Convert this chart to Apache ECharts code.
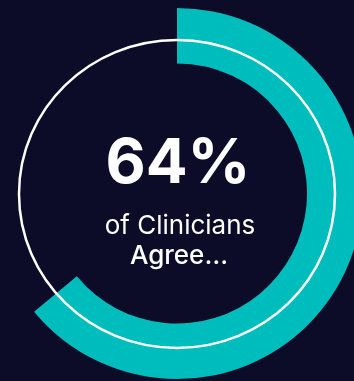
<!DOCTYPE html>
<html>
<head>
<meta charset="utf-8">
<style>
  html, body { margin: 0; padding: 0; background: #0c0c29; }
  #chart { width: 354px; height: 381px; }
</style>
<script src="https://cdn.jsdelivr.net/npm/echarts@6/dist/echarts.min.js"></script>
</head>
<body>
<div id="chart"></div>
<script>
// Share of clinicians who agree, out of a full ring of 100
const shareLabels = ['Agree', 'Other'];
const shareValues = [64, 36];
const headline = '64%';
const subLines = ['of Clinicians', 'Agree…'];

const BG = '#0c0c29';
const TEAL = '#00bdbd';

const chart = echarts.init(document.getElementById('chart'), null, { renderer: 'canvas' });

const cx = 177, cy = 193.5;

chart.setOption({
  backgroundColor: BG,
  animation: false,
  series: [{
    type: 'pie',
    center: [cx, cy],
    radius: [130, 185.5],
    startAngle: 90,
    clockwise: true,
    silent: true,
    label: { show: false },
    labelLine: { show: false },
    itemStyle: { borderWidth: 0 },
    data: shareLabels.map((name, i) => ({
      name,
      value: shareValues[i],
      itemStyle: { color: i === 0 ? TEAL : 'rgba(0,0,0,0)' }
    }))
  }],
  graphic: [
    {
      type: 'ellipse',
      z: 10,
      shape: { cx: cx, cy: 194, rx: 158, ry: 154 },
      style: { fill: null, stroke: '#ffffff', lineWidth: 2.5 }
    },
    {
      type: 'text',
      z: 10,
      x: cx + 1, y: 164,
      style: {
        text: headline,
        fill: '#ffffff',
        font: '700 62px Inter',
        align: 'center',
        verticalAlign: 'middle'
      }
    },
    {
      type: 'text',
      z: 10,
      x: cx + 3, y: 226,
      style: {
        text: subLines[0],
        fill: '#ffffff',
        font: '400 26px Inter',
        align: 'center',
        verticalAlign: 'middle'
      }
    },
    {
      type: 'text',
      z: 10,
      x: cx + 2, y: 256,
      style: {
        text: subLines[1],
        fill: '#ffffff',
        font: '500 26px Inter',
        align: 'center',
        verticalAlign: 'middle'
      }
    }
  ]
});
</script>
</body>
</html>
